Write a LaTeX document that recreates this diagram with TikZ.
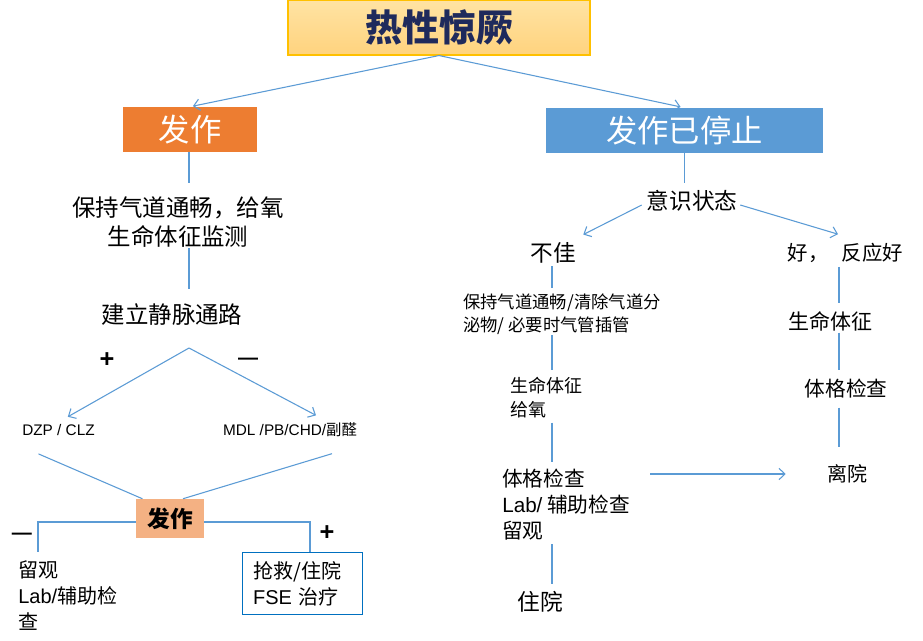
\documentclass[tikz,border=0pt]{standalone}
\usepackage{fontspec}
\setmainfont{Noto Sans CJK SC}
\newfontfamily\lat{Liberation Sans}
\usetikzlibrary{arrows.meta,calc}
\definecolor{lineblue}  {HTML}{5B9BD5}
\definecolor{navy}      {HTML}{1F2A5C}
\definecolor{fireorange}{HTML}{ED7D31}
\definecolor{skyblue}   {HTML}{5B9BD5}
\definecolor{peach}     {HTML}{F4B183}
\definecolor{boxblue}   {HTML}{0070C0}
\definecolor{goldedge}  {HTML}{FFC000}
\definecolor{goldtop}   {HTML}{FFE3A3}
\definecolor{goldbot}   {HTML}{FFD37E}
\newcommand\setfs[2]{\fontsize{#1}{#2}\selectfont}
\tikzset{
  % --- nodes
  txt/.style     = {inner sep=0pt, align=center, text=black},
  txtl/.style    = {inner sep=0pt, align=left, anchor=west, text=black},
  headbox/.style = {inner sep=0pt, minimum height=33.75pt, text=white,
                    font=\setfs{23.5pt}{28pt}},
  sign/.style    = {inner sep=0pt, font=\lat\bfseries\setfs{15pt}{18pt}},
  plussign/.style= {inner sep=0pt, font=\lat\bfseries\setfs{19pt}{22pt}},
  % --- edges
  ln/.style      = {draw=lineblue, line width=0.8pt},
  arr/.style     = {ln, -{Straight Barb[length=4.5pt,width=8.5pt]}},
}
\begin{document}
\begin{tikzpicture}[x=0.75pt, y=-0.75pt]
  \fill[white] (0,0) rectangle (923,640);
  \useasboundingbox (0,0) rectangle (923,640);
  % column guides
  \coordinate (lcol) at (189,0);
  \coordinate (mcol) at (552,0);
  \coordinate (rcol) at (839,0);
  % --- heads
  \node[inner sep=0pt, draw=goldedge, line width=0.8pt, top color=goldtop, bottom color=goldbot,
        minimum width=226.5pt, minimum height=41.25pt, text=navy,
        font=\bfseries\setfs{27.75pt}{32pt}] (title) at (439,27.5) {热性惊厥};
  \node[headbox, fill=fireorange, minimum width=100.5pt] (fa) at (190,129.5) {发作};
  \node[headbox, fill=skyblue, minimum width=207.75pt] (stop) at (684.5,130.5) {发作已停止};
  \draw[arr, shorten >=2.25pt] (title.south) -- (fa.north);
  \draw[arr, shorten >=3pt] (title.south) -- (stop.north);
  % --- left branch
  \node[txt, font=\setfs{17.6pt}{21.75pt}] (airway) at (178,222.5) {保持气道通畅，给氧\\生命体征监测};
  \node[txt, font=\setfs{17.6pt}{21pt}] (iv) at (172,315) {建立静脉通路};
  \draw[ln, shorten >=10.5pt] (lcol |- fa.south) -- (lcol |- airway.north);
  \draw[ln, shorten >=11.25pt] (lcol |- airway.south) -- (lcol |- iv.north);
  \coordinate (fork) at (189,348);
  \node[plussign] (plusa) at (107,360) {+};
  \node[sign] (minusa) at (248,361) {—};
  \node[txt, font=\lat\setfs{11.5pt}{14pt}] (dzp) at (58.5,430) {DZP / CLZ};
  \node[txt, font=\setfs{11.5pt}{14pt}] (mdl) at (290,430) {{\lat MDL /PB/CHD/}副醛};
  \draw[arr] (fork) -- ([xshift=7pt,yshift=5.5pt]dzp.north);
  \draw[arr] (fork) -- ([xshift=19.5pt,yshift=5.5pt]mdl.north);
  \node[inner sep=0pt, fill=peach, minimum width=51pt, minimum height=29.25pt,
        font=\bfseries\setfs{17pt}{20pt}] (refit) at (170,518.5) {发作};
  \draw[ln] ([xshift=-15pt,yshift=-13.5pt]dzp.south) -- ([xshift=5pt]refit.north west);
  \draw[ln] ([xshift=31.5pt,yshift=-12.25pt]mdl.south) -- ([xshift=9.75pt]refit.north);
  \node[sign] (minusb) at (22,536) {—};
  \node[plussign] (plusb) at (327,533) {+};
  \node[txtl, font=\setfs{15pt}{19.5pt}] (watch) at (18,596) {留观\\{\lat Lab/}辅助检\\查};
  \node[draw=boxblue, line width=1.1pt, inner xsep=8pt, inner ysep=0pt, text width=74pt,
        minimum height=46.5pt, align=left, font=\setfs{15pt}{19.5pt}] (rescue) at (302.5,583.5)
        {抢救/住院\\{\lat FSE} 治疗};
  \coordinate (watchtop) at (38,552);
  \draw[ln] ([yshift=-2.6pt]refit.west) -| (watchtop);
  \draw[ln] ([yshift=-2.6pt]refit.east) -| ([xshift=5.6pt]rescue.north);
  % --- right branch
  \node[txt, font=\setfs{17pt}{20pt}] (mind) at (692,201) {意识状态};
  \draw[ln, shorten >=5.6pt] (stop.south) -- (stop.south |- mind.north);
  \node[txt, font=\setfs{17pt}{20pt}] (poor) at (553,253) {不佳};
  \node[txt, font=\setfs{15.3pt}{18pt}] (good) at (845.5,253) {好，\hspace{10pt}反应好};
  \draw[arr] ([xshift=-3.5pt,yshift=-3pt]mind.west) -- ([xshift=5.5pt,yshift=5.8pt]poor.north east);
  \draw[arr] ([xshift=2pt,yshift=-3pt]mind.east) -- ([xshift=-5.6pt,yshift=6.6pt]good.north);
  \node[txtl, font=\setfs{13pt}{17.25pt}] (clear) at (463,314.5) {保持气道通畅/清除气道分\\泌物/ 必要时气管插管};
  \node[txtl, font=\setfs{13.5pt}{18pt}] (vital) at (510,398) {生命体征\\给氧};
  \node[txtl, font=\setfs{15.5pt}{19.5pt}] (exam) at (502,505) {体格检查\\{\lat Lab/} 辅助检查\\留观};
  \node[txt, font=\setfs{17pt}{20pt}] (admit) at (540.5,602) {住院};
  \draw[ln, shorten <=2pt, shorten >=4.7pt] (mcol |- poor.south) -- (mcol |- clear.north);
  \draw[ln, shorten >=5.25pt] (mcol |- clear.south) -- (mcol |- vital.north);
  \draw[ln, shorten <=3pt, shorten >=5.7pt] (mcol |- vital.south) -- (mcol |- exam.north);
  \draw[ln, shorten <=2.7pt, shorten >=5.8pt] (mcol |- exam.south) -- (mcol |- admit.north);
  \node[txt, font=\setfs{15.75pt}{19pt}] (vital2) at (830,321) {生命体征};
  \node[txt, font=\setfs{15.5pt}{19pt}] (exam2) at (846,389) {体格检查};
  \node[txt, font=\setfs{15pt}{18pt}] (leave) at (847,474) {离院};
  \draw[ln, shorten <=2.85pt, shorten >=5.6pt] (rcol |- good.south) -- (rcol |- vital2.north);
  \draw[ln, shorten <=1.1pt, shorten >=6.5pt] (rcol |- vital2.south) -- (rcol |- exam2.north);
  \draw[ln, shorten <=6.5pt, shorten >=12.75pt] (rcol |- exam2.south) -- (rcol |- leave.north);
  \draw[arr, shorten <=15pt, shorten >=30.75pt] (exam.east |- leave.west) -- (leave.west);
\end{tikzpicture}
\end{document}
